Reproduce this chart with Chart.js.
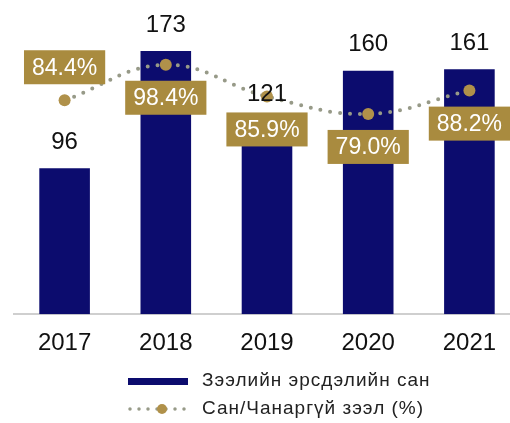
<!DOCTYPE html>
<html>
<head>
<meta charset="utf-8">
<script src="https://cdn.jsdelivr.net/npm/chart.js@4.4.1/dist/chart.umd.min.js"></script>
<style>
  html, body { margin: 0; padding: 0; background: #fff; overflow: hidden; }
  canvas { display: block; }
</style>
</head>
<body>
<canvas id="myChart" width="526" height="423"></canvas>
<script>
// Loan-loss reserve (bars) and reserve / non-performing loans ratio (line)
var years = ['2017', '2018', '2019', '2020', '2021'];
var reserveFund = [96, 173, 121, 160, 161];
var reserveRatio = [84.4, 98.4, 85.9, 79.0, 88.2];
var seriesNames = ['Зээлийн эрсдэлийн сан', 'Сан/Чанаргүй зээл (%)'];

var navy = '#0c0c6e';
var gold = '#a98b3f';
var pointGold = '#b0914a';
var dotGrey = '#979a88';
var font = "'Liberation Sans', Arial, sans-serif";

// -1 puts the % box above its point, 1 below
var ratioLabelSide = [-1, 1, 1, 1, 1];
// how far the bar numbers float over the bar tops
var barLabelLift = [26, 26, 36, 26, 26];

var valueLabels = {
  id: 'valueLabels',
  afterDatasetsDraw: function(chart) {
    var ctx = chart.ctx;
    ctx.save();
    ctx.textAlign = 'center';
    ctx.textBaseline = 'middle';

    ctx.font = '24px ' + font;
    ctx.fillStyle = '#111';
    chart.getDatasetMeta(0).data.forEach(function(bar, i) {
      ctx.fillText(reserveFund[i], bar.x, bar.y - barLabelLift[i]);
    });

    ctx.font = '23px ' + font;
    chart.getDatasetMeta(1).data.forEach(function(pt, i) {
      var text = reserveRatio[i].toFixed(1) + '%';
      var w = ctx.measureText(text).width + 16;
      var h = 34;
      var cy = pt.y + ratioLabelSide[i] * 33;
      ctx.fillStyle = gold;
      ctx.fillRect(pt.x - w / 2, cy - h / 2, w, h);
      ctx.fillStyle = '#fff';
      ctx.fillText(text, pt.x, cy + 1);
    });
    ctx.restore();
  }
};

// two stacked legend rows, left aligned
var legendRows = {
  id: 'legendRows',
  afterDraw: function(chart) {
    var ctx = chart.ctx;
    var x = 128, y1 = 381, y2 = 409;
    ctx.save();
    ctx.fillStyle = navy;
    ctx.fillRect(x, y1 - 3, 60, 7);

    ctx.strokeStyle = dotGrey;
    ctx.lineWidth = 3.5;
    ctx.lineCap = 'round';
    ctx.setLineDash([0, 9]);
    ctx.beginPath();
    ctx.moveTo(x + 2, y2);
    ctx.lineTo(x + 62, y2);
    ctx.stroke();
    ctx.setLineDash([]);
    ctx.fillStyle = pointGold;
    ctx.beginPath();
    ctx.arc(x + 34, y2, 5, 0, Math.PI * 2);
    ctx.fill();

    ctx.fillStyle = '#222';
    ctx.font = '19px ' + font;
    ctx.letterSpacing = '1px';
    ctx.textAlign = 'left';
    ctx.textBaseline = 'middle';
    ctx.fillText(chart.data.datasets[0].label, x + 74, y1);
    ctx.fillText(chart.data.datasets[1].label, x + 74, y2);
    ctx.restore();
  }
};

var ctx = document.getElementById('myChart').getContext('2d');
var myChart = new Chart(ctx, {
  type: 'bar',
  data: {
    labels: years,
    datasets: [{
      type: 'bar',
      label: seriesNames[0],
      data: reserveFund,
      backgroundColor: navy,
      yAxisID: 'y',
      order: 2,
      barPercentage: 0.5,
      categoryPercentage: 1
    }, {
      type: 'line',
      label: seriesNames[1],
      data: reserveRatio,
      yAxisID: 'y1',
      order: 1,
      borderColor: dotGrey,
      borderWidth: 4,
      borderDash: [0, 10],
      borderCapStyle: 'round',
      tension: 0.4,
      pointRadius: 6,
      pointBackgroundColor: pointGold,
      pointBorderWidth: 0
    }]
  },
  options: {
    responsive: false,
    animation: false,
    layout: { padding: { left: 14, top: 10, right: 0, bottom: 50 } },
    plugins: {
      legend: { display: false },
      tooltip: { enabled: false }
    },
    scales: {
      x: {
        grid: { display: false, drawTicks: false },
        border: { display: true, color: '#cfcfcf', width: 2 },
        ticks: { font: { family: font, size: 24 }, color: '#111', padding: 15 }
      },
      y: { display: false, min: 0, max: 200 },
      y1: { display: false, min: 0, max: 120 }
    }
  },
  plugins: [valueLabels, legendRows]
});
</script>
</body>
</html>
